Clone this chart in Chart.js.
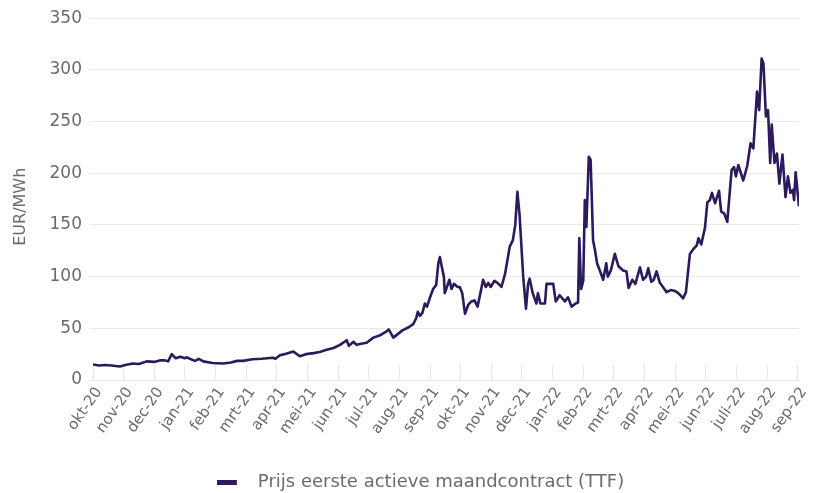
<!DOCTYPE html>
<html>
<head>
<meta charset="utf-8">
<script src="https://cdn.jsdelivr.net/npm/chart.js@4/dist/chart.umd.min.js"></script>
<style>
html,body{margin:0;padding:0;background:#fff;}
#wrap{width:817px;height:493px;}
</style>
</head>
<body>
<div id="wrap"><canvas id="c" width="817" height="493"></canvas></div>
<script>
// Month tick labels (index 0 = okt-20)
const monthLabels = ['okt-20','nov-20','dec-20','jan-21','feb-21','mrt-21','apr-21','mei-21','jun-21','jul-21','aug-21','sep-21',
  'okt-21','nov-21','dec-21','jan-22','feb-22','mrt-22','apr-22','mei-22','jun-22','juli-22','aug-22','sep-22'];

// Time of each observation, in months since start of okt-20
const obsMonths = [
  0.00,0.20,0.40,0.60,0.88,1.05,1.30,1.50,1.75,2.00,2.20,2.35,2.45,2.57,2.70,2.85,3.00,3.05,3.20,3.33,3.45,3.60,3.90,4.25,4.50,4.70,4.90,
  5.20,5.50,5.87,5.95,6.10,6.30,6.54,6.75,6.95,7.20,7.40,7.60,7.85,8.06,8.28,8.35,8.50,8.60,8.75,8.93,9.15,9.35,9.58,9.65,9.80,10.10,
  10.30,10.45,10.55,10.60,10.67,10.75,10.83,10.90,11.00,11.10,11.20,11.27,11.32,11.38,11.45,11.48,11.55,11.63,11.70,11.78,11.90,11.97,
  12.05,12.14,12.25,12.35,12.45,12.55,12.65,12.73,12.82,12.90,12.98,13.10,13.20,13.33,13.45,13.60,13.70,13.78,13.85,13.92,13.98,14.04,
  14.13,14.20,14.25,14.35,14.47,14.52,14.60,14.75,14.80,15.02,15.10,15.23,15.40,15.50,15.62,15.75,15.83,15.87,15.93,16.00,16.05,16.10,
  16.15,16.18,16.24,16.32,16.38,16.45,16.54,16.65,16.75,16.80,16.90,17.03,17.15,17.30,17.41,17.48,17.60,17.70,17.85,17.95,18.05,18.12,
  18.22,18.30,18.39,18.50,18.60,18.72,18.85,19.00,19.10,19.20,19.26,19.35,19.48,19.60,19.70,19.76,19.85,19.97,20.05,20.13,20.20,20.30,
  20.43,20.50,20.60,20.70,20.84,20.92,20.98,21.06,21.22,21.35,21.46,21.55,21.67,21.74,21.82,21.88,21.96,22.03,22.10,22.15,22.24,22.32,
  22.40,22.50,22.60,22.68,22.76,22.84,22.88,22.93,23.04
];

// Price of first active month contract (TTF), EUR/MWh
const prices = [
  15,14,14.5,14,13,14.5,16,15.5,18,17.5,19,19,18,25,21,22.5,21,22,20,18.5,20.5,18,16.5,16,17,18.5,18.5,
  20,20.5,21.5,20.5,24,25.5,27.5,23,25,26,27,29,31,34,38.5,33,37,34,35,36,41,43,47,49,41,48,
  51,54,60,66,62,65,74,71,80,88,92,113,119,110,100,84,90,97,88,93,90,90,
  84,64,73,76,77,71,85,97,90,94,90,96,94,90,103,129,135,150,182,160,130,100,
  69,93,98,84,74,84,74,74,93,93,76,82,76,80,71,74,75,137,88,96,174,148,
  190,216,213,135,126,113,106,97,113,100,106,122,110,106,105,89,97,93,109,97,100,108,
  95,97,105,94,90,85,87,86,84,81,79,85,122,127,130,137,131,147,172,174,181,171,
  183,163,161,153,203,206,197,208,193,207,229,224,279,261,311,306,255,261,210,247,210,219,
  190,218,177,197,181,184,174,201,168
];

const yTicks = [0,50,100,150,200,250,300,350];
const seriesName = 'Prijs eerste actieve maandcontract (TTF)';
const yTitle = 'EUR/MWh';

const lineColor = '#2c1a5c';
const textColor = '#6b6b6b';
const gridColor = '#e8e8e8';
const fontFamily = '"DejaVu Sans", sans-serif';

const points = obsMonths.map((m, i) => ({x: m, y: prices[i]}));

// legend swatch: short thick bar with a gap before the text
const swatch = document.createElement('canvas');
swatch.width = 32; swatch.height = 5;
(function(){ const g = swatch.getContext('2d'); g.fillStyle = lineColor; g.fillRect(0, 0, 20, 5); })();

const BOTTOM_PAD = -8;
const LEFT_PAD = 42;

new Chart(document.getElementById('c'), {
  type: 'line',
  data: {
    datasets: [{
      label: seriesName,
      data: points,
      borderColor: lineColor,
      backgroundColor: lineColor,
      borderWidth: 2.6,
      pointRadius: 0,
      pointStyle: swatch,
      tension: 0,
      borderJoinStyle: 'round'
    }]
  },
  options: {
    responsive: false,
    animation: false,
    layout: {padding: {top: 18, right: 18, bottom: BOTTOM_PAD, left: LEFT_PAD}},
    plugins: {
      tooltip: {enabled: false},
      legend: {
        position: 'bottom',
        labels: {
          usePointStyle: true,
          pointStyleWidth: 32,
          boxHeight: 5,
          color: textColor,
          font: {family: fontFamily, size: 18},
          padding: 2
        }
      }
    },
    scales: {
      x: {
        type: 'linear',
        min: 0,
        max: 23.04,
        afterBuildTicks: s => { s.ticks = monthLabels.map((_, i) => ({value: i})); },
        afterFit: s => {
          const lg = s.chart.legend;
          const lh = lg && lg.height ? lg.height : 24;
          s.height = 493 - BOTTOM_PAD - 380 - lh;
          s.paddingRight = 0;
          s.paddingLeft = 0;
        },
        grid: {
          drawOnChartArea: false,
          drawTicks: true,
          tickLength: -15,
          color: gridColor
        },
        border: {display: true, color: gridColor},
        ticks: {
          autoSkip: false,
          maxRotation: 55,
          minRotation: 55,
          padding: 19,
          labelOffset: 6,
          color: textColor,
          font: {family: fontFamily, size: 15},
          callback: v => monthLabels[v]
        }
      },
      y: {
        min: 0,
        max: 350,
        afterBuildTicks: s => { s.ticks = yTicks.map(v => ({value: v})); },
        afterFit: s => { s.width = 93 - LEFT_PAD; },
        grid: {color: gridColor, tickLength: 3},
        border: {display: false},
        ticks: {
          padding: 8,
          color: textColor,
          font: {family: fontFamily, size: 17}
        },
        title: {
          display: true,
          text: yTitle + '   ',
          color: textColor,
          font: {family: fontFamily, size: 16},
          padding: {top: 26 - LEFT_PAD - 15, bottom: 0}
        }
      }
    }
  }
});
</script>
</body>
</html>
